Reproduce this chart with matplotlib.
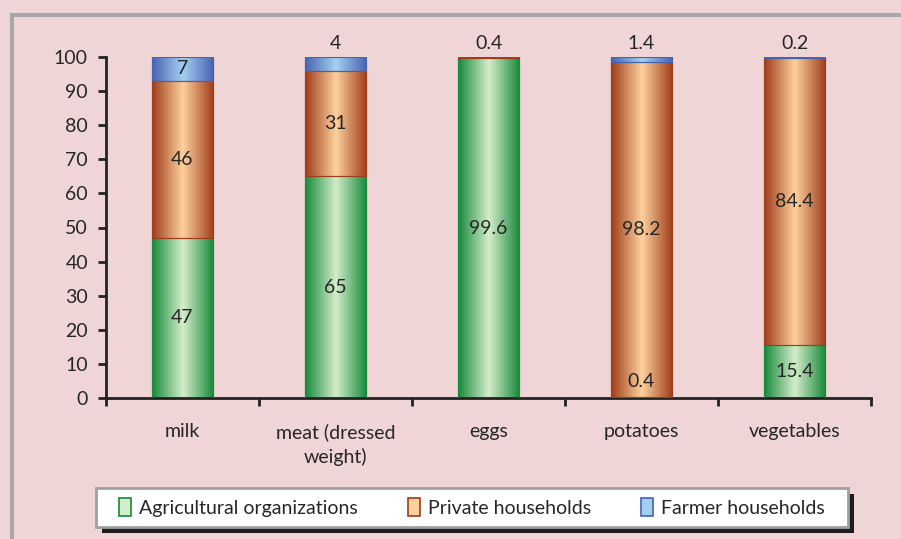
import numpy as np
import matplotlib
matplotlib.use('Agg')
import matplotlib.pyplot as plt
from matplotlib.colors import LinearSegmentedColormap
from matplotlib.patches import Rectangle

plt.rcParams['font.family'] = ['Lato', 'DejaVu Sans']

categories = ['milk', 'meat (dressed\nweight)', 'eggs', 'potatoes', 'vegetables']
agricultural = [47, 65, 99.6, 0.4, 15.4]
private = [46, 31, 0.4, 98.2, 84.4]
farmer = [7, 4, 0, 1.4, 0.2]
series_names = ['Agricultural organizations', 'Private households', 'Farmer households']

# dark edge / light centre tones of the gradient fills
tones = [('#17893a', '#d4edcb'), ('#9f3c1a', '#fdd19d'), ('#4862b2', '#a3d0f2')]
text_col = '#262626'
bg = '#f0d5d6'
fs = 14

fig = plt.figure(figsize=(9.01, 5.39), dpi=100, facecolor=bg)
ax = fig.add_axes([106/901, 1-398/539, 765/901, 341/539])
ax.set_facecolor(bg)

x = np.arange(len(categories))
width = 0.405
bottom = np.zeros(len(categories))
grad = np.linspace(0, 1, 256).reshape(1, -1)
handles = []
for vals, name, (dark, light) in zip([agricultural, private, farmer], series_names, tones):
    vals = np.array(vals, dtype=float)
    bars = ax.bar(x, vals, width, bottom=bottom, color=light, edgecolor=dark,
                  linewidth=0.8, zorder=2, label=name)
    cmap = LinearSegmentedColormap.from_list('g', [(0, dark), (0.5, light), (1, dark)])
    for p in bars.patches:
        if p.get_height() <= 0:
            continue
        x0, y0 = p.get_x(), p.get_y()
        im = ax.imshow(grad, extent=[x0, x0 + p.get_width(), y0, y0 + p.get_height()],
                       cmap=cmap, aspect='auto', zorder=2.5, interpolation='bilinear')
        im.set_clip_path(p)
        edge = Rectangle((x0, y0), p.get_width(), p.get_height(), fill=False,
                         edgecolor=dark, linewidth=0.8, zorder=3)
        ax.add_patch(edge)
    handles.append(Rectangle((0, 0), 1, 1, facecolor=light, edgecolor=dark, linewidth=1.2))
    bottom = bottom + vals

# value labels
stack = np.zeros(len(categories))
for vals in [agricultural, private, farmer]:
    for i, v in enumerate(vals):
        if v <= 0:
            continue
        if v >= 5:
            y = stack[i] + v / 2
        elif stack[i] + v >= 99:
            y = 104
        else:
            y = 4.7
        ax.text(x[i], y, f'{v:g}', ha='center', va='center', fontsize=fs,
                color=text_col, zorder=5, clip_on=False)
    stack = stack + np.array(vals)

ax.set_xlim(-0.5, len(categories) - 0.5)
ax.set_ylim(0, 100)
ax.set_yticks(np.arange(0, 101, 10))
ax.set_xticks(x)
ax.set_xticklabels(categories, linespacing=1.45)
ax.set_xticks(np.arange(-0.5, len(categories)), minor=True)
ax.tick_params(axis='x', which='major', length=0, pad=18, labelsize=fs, colors=text_col)
ax.tick_params(axis='x', which='minor', length=6, width=2, direction='out', color='#222222')
ax.tick_params(axis='y', length=6, width=2, direction='out', pad=7, labelsize=fs,
               colors=text_col, color='#222222')
for s in ['top', 'right']:
    ax.spines[s].set_visible(False)
for s in ['left', 'bottom']:
    ax.spines[s].set_linewidth(2)
    ax.spines[s].set_color('#222222')

# outer frame (top and left visible)
fig.add_artist(plt.Line2D([12/901, 12/901], [0, 1-15/539], color='#a8a8a8', lw=3,
                          transform=fig.transFigure))
fig.add_artist(plt.Line2D([12/901, 1], [1-15/539, 1-15/539], color='#a8a8a8', lw=3,
                          transform=fig.transFigure))

# legend box with hard shadow
lx, ly, lw_, lh = 96/901, 1-527/539, 752/901, 39/539
fig.add_artist(Rectangle((lx + 6/901, ly - 6/539), lw_, lh, facecolor='#1e1e1e',
                         edgecolor='none', transform=fig.transFigure, zorder=1))
fig.add_artist(Rectangle((lx, ly), lw_, lh, facecolor='white', edgecolor='#a0a0a0',
                         linewidth=2, transform=fig.transFigure, zorder=2))
leg = fig.legend(handles, series_names, loc='center', ncol=3,
                 bbox_to_anchor=(lx + lw_ / 2, ly + lh / 2), fontsize=fs, frameon=False,
                 handlelength=0.6, handleheight=1.0, handletextpad=0.4,
                 columnspacing=2.6, labelcolor=text_col)
leg.set_zorder(3)

fig.savefig('out.png', dpi=100, facecolor=bg)
